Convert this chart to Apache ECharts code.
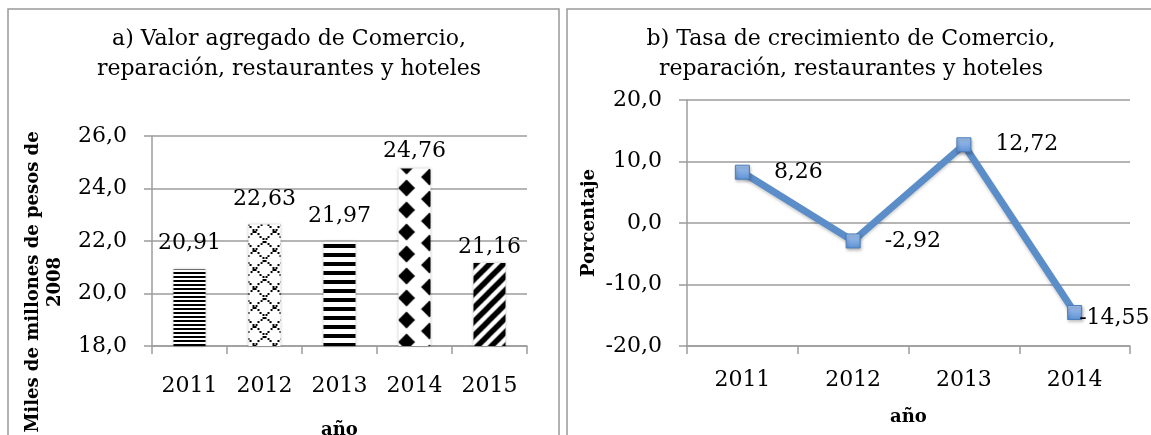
<!DOCTYPE html>
<html>
<head>
<meta charset="utf-8">
<script src="https://cdn.jsdelivr.net/npm/echarts@6/dist/echarts.min.js"></script>
<style>
html,body{margin:0;padding:0;background:#fff;}
#chart{width:1151px;height:435px;}
</style>
</head>
<body>
<div id="chart"></div>
<script>
// ---- data ----
const titleA = 'a) Valor agregado de Comercio,\nreparación, restaurantes y hoteles';
const titleB = 'b) Tasa de crecimiento de Comercio,\nreparación, restaurantes y hoteles';
const yearsA = ['2011', '2012', '2013', '2014', '2015'];
const valorAgregado = [20.91, 22.63, 21.97, 24.76, 21.16];
const ticksA = [18, 20, 22, 24, 26];
const yNameA = 'Miles de millones de pesos de\n2008';
const yearsB = ['2011', '2012', '2013', '2014'];
const tasaCrecimiento = [8.26, -2.92, 12.72, -14.55];
const ticksB = [-20, -10, 0, 10, 20];
const yNameB = 'Porcentaje';
const xName = 'año';

// ---- styles ----
const FONT = 'DejaVu Serif';
const GRID_C = '#9c9c9c';
const BAR_W = 32;

function tile(w, h, draw) {
  const c = document.createElement('canvas');
  c.width = w; c.height = h;
  const ctx = c.getContext('2d');
  ctx.fillStyle = '#fff';
  ctx.fillRect(0, 0, w, h);
  ctx.fillStyle = '#000';
  ctx.strokeStyle = '#000';
  draw(ctx, w, h);
  return c;
}
const tiles = [
  // 2011 fine horizontal stripes
  { img: tile(4, 4, (ctx) => { ctx.fillRect(0, 0, 4, 2); }), dx: 0, y: 0 },
  // 2012 dotted lattice
  { img: tile(20, 19, (ctx) => {
      for (let i = 0; i < 20; i += 2.5) {
        const y = i * 19 / 20;
        ctx.fillRect(Math.round(i), Math.round(y), 2, 2);
        ctx.fillRect(Math.round(18 - i), Math.round(y), 2, 2);
      }
    }), dx: 6, y: 3 },
  // 2013 thick horizontal stripes
  { img: tile(4, 9, (ctx) => { ctx.fillRect(0, 0, 4, 4); }), dx: 0, y: 1 },
  // 2014 diamonds
  { img: tile(46, 22, (ctx) => {
      const d = (cx, cy) => {
        ctx.beginPath();
        ctx.moveTo(cx, cy - 8.5); ctx.lineTo(cx + 8.5, cy);
        ctx.lineTo(cx, cy + 8.5); ctx.lineTo(cx - 8.5, cy);
        ctx.closePath(); ctx.fill();
      };
      d(0, 0); d(46, 0); d(0, 22); d(46, 22); d(23, 11);
    }), dx: 8, y: 12 },
  // 2015 diagonal stripes
  { img: tile(14, 14, (ctx) => {
      ctx.lineWidth = 5.5;
      ctx.beginPath();
      ctx.moveTo(-4, 18); ctx.lineTo(18, -4);
      ctx.moveTo(-18, 18); ctx.lineTo(4, -4);
      ctx.moveTo(10, 18); ctx.lineTo(32, -4);
      ctx.stroke();
    }), dx: 0, y: 0 }
];
const barLabelGap = [15, 14, 15, 6, 5];

const fmt1 = v => v.toFixed(1).replace('.', ',');
const fmt2 = v => v.toFixed(2).replace('.', ',');
const txt = { fontFamily: FONT, fontSize: 22, color: '#000' };

const chart = echarts.init(document.getElementById('chart'), null, { renderer: 'canvas' });

function barData(lefts) {
  return valorAgregado.map((v, i) => ({
    value: v,
    itemStyle: {
      color: { image: tiles[i].img, repeat: 'repeat', x: (lefts ? lefts[i] : 0) + tiles[i].dx, y: tiles[i].y },
      shadowColor: 'rgba(0,0,0,0.25)', shadowBlur: 3
    },
    label: { distance: barLabelGap[i] }
  }));
}

const option = {
  animation: false,
  backgroundColor: '#fff',
  title: [
    { text: titleA, left: 284, top: 19, textAlign: 'center',
      textStyle: { fontFamily: FONT, fontSize: 22, fontWeight: 'normal', lineHeight: 30, color: '#000' } },
    { text: titleB, left: 846, top: 19, textAlign: 'center',
      textStyle: { fontFamily: FONT, fontSize: 22, fontWeight: 'normal', lineHeight: 30, color: '#000' } }
  ],
  graphic: [
    { type: 'rect', shape: { x: 8, y: 9, width: 551, height: 500 }, style: { fill: 'none', stroke: '#999', lineWidth: 1.5 }, silent: true },
    { type: 'rect', shape: { x: 567, y: 9, width: 620, height: 500 }, style: { fill: 'none', stroke: '#999', lineWidth: 1.5 }, silent: true }
  ],
  grid: [
    { left: 152, right: 624, top: 136, bottom: 89, containLabel: false, outerBoundsMode: 'none' },
    { left: 687, right: 21, top: 100, bottom: 89, containLabel: false, outerBoundsMode: 'none' }
  ],
  xAxis: [
    { type: 'category', gridIndex: 0, data: yearsA, boundaryGap: true,
      name: xName, nameLocation: 'middle', nameGap: 75,
      nameTextStyle: { fontFamily: FONT, fontSize: 18, fontWeight: 'bold', color: '#000' },
      axisLine: { lineStyle: { color: GRID_C, width: 1.5 } },
      axisTick: { show: true, length: 8, lineStyle: { color: GRID_C, width: 1.5 } },
      axisLabel: Object.assign({ margin: 29 }, txt) },
    { type: 'category', gridIndex: 1, data: yearsB, boundaryGap: true,
      name: xName, nameLocation: 'middle', nameGap: 62,
      nameTextStyle: { fontFamily: FONT, fontSize: 18, fontWeight: 'bold', color: '#000' },
      axisLine: { onZero: false, lineStyle: { color: GRID_C, width: 1.5 } },
      axisTick: { show: true, length: 8, lineStyle: { color: GRID_C, width: 1.5 } },
      axisLabel: Object.assign({ margin: 23 }, txt) }
  ],
  yAxis: [
    { type: 'value', gridIndex: 0, min: ticksA[0], max: ticksA[ticksA.length - 1], interval: ticksA[1] - ticksA[0],
      name: yNameA, nameLocation: 'middle', nameGap: 86, nameRotate: 90,
      nameTextStyle: { fontFamily: FONT, fontSize: 18, fontWeight: 'bold', color: '#000', lineHeight: 22, align: 'center', padding: [0, 82, 0, 0] },
      axisLine: { show: true, lineStyle: { color: GRID_C, width: 1.5 } },
      axisTick: { show: true, length: 8, lineStyle: { color: GRID_C, width: 1.5 } },
      splitLine: { lineStyle: { color: GRID_C, width: 1.5 } },
      axisLabel: Object.assign({ margin: 25, formatter: fmt1 }, txt) },
    { type: 'value', gridIndex: 1, min: ticksB[0], max: ticksB[ticksB.length - 1], interval: ticksB[1] - ticksB[0],
      name: yNameB, nameLocation: 'middle', nameGap: 89, nameRotate: 90,
      nameTextStyle: { fontFamily: FONT, fontSize: 18, fontWeight: 'bold', color: '#000' },
      axisLine: { show: true, onZero: false, lineStyle: { color: GRID_C, width: 1.5 } },
      axisTick: { show: true, length: 8, lineStyle: { color: GRID_C, width: 1.5 } },
      splitLine: { lineStyle: { color: GRID_C, width: 1.5 } },
      axisLabel: Object.assign({ margin: 25, formatter: fmt1 }, txt) }
  ],
  series: [
    { type: 'bar', xAxisIndex: 0, yAxisIndex: 0, barWidth: BAR_W,
      data: barData(null),
      label: Object.assign({ show: true, position: 'top', formatter: p => fmt2(p.value) }, txt) },
    { type: 'line', xAxisIndex: 1, yAxisIndex: 1, data: tasaCrecimiento.map((v, i) => (
        i === tasaCrecimiento.length - 1 ? { value: v, label: { distance: -3, offset: [0, 6] } } : { value: v })),
      symbol: 'rect', symbolSize: 14,
      lineStyle: { color: '#5b8dc9', width: 7, shadowColor: 'rgba(0,0,0,0.2)', shadowBlur: 3, shadowOffsetY: 2 },
      itemStyle: {
        color: new echarts.graphic.LinearGradient(0, 0, 0, 1, [
          { offset: 0, color: '#a6c4ee' }, { offset: 1, color: '#5e92d6' }
        ]),
        borderColor: '#4a7ebb', borderWidth: 1,
        shadowColor: 'rgba(0,0,0,0.3)', shadowBlur: 3, shadowOffsetX: 1, shadowOffsetY: 2
      },
      label: Object.assign({ show: true, position: 'right', distance: 24, formatter: p => fmt2(p.value) }, txt) }
  ]
};
chart.setOption(option);

// align pattern tiles with each bar's left edge (positions come from the axis scale)
const lefts = yearsA.map(y => chart.convertToPixel({ xAxisIndex: 0 }, y) - BAR_W / 2);
chart.setOption({ series: [{ data: barData(lefts) }] });
</script>
</body>
</html>
